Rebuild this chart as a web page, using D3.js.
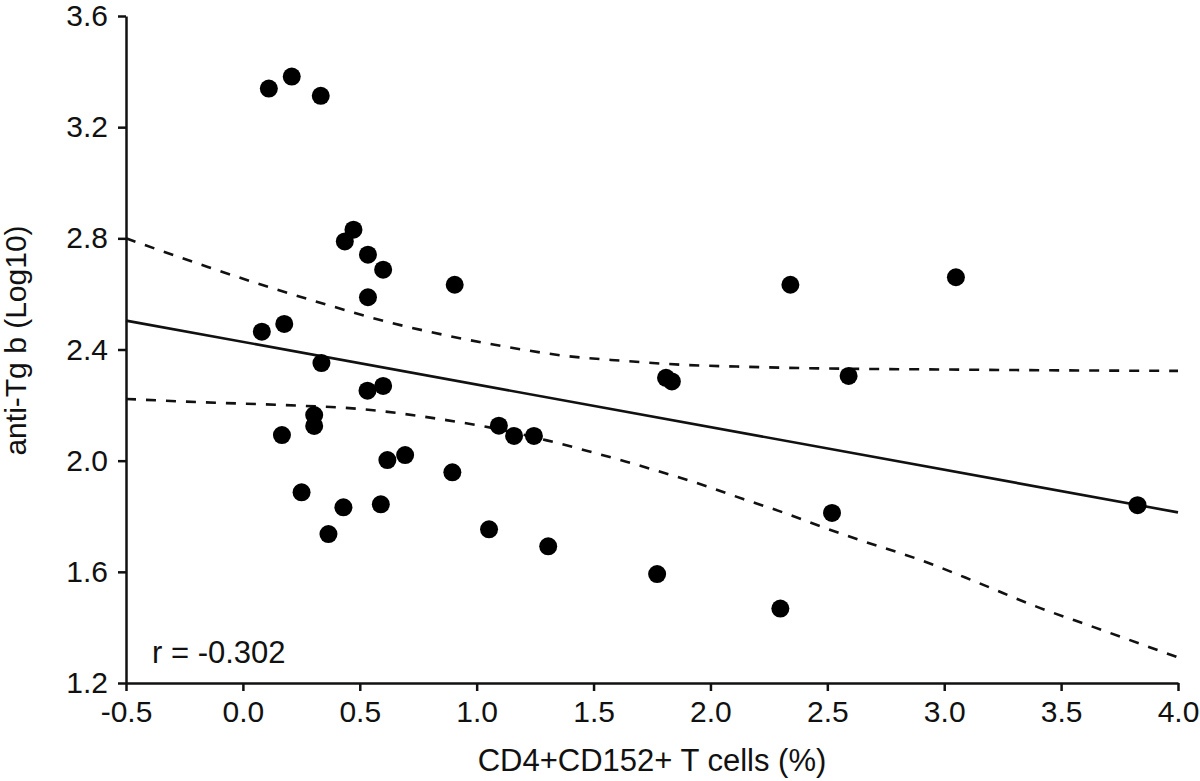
<!DOCTYPE html>
<html>
<head>
<meta charset="utf-8">
<script src="https://cdn.jsdelivr.net/npm/d3@7/dist/d3.min.js"></script>
<style>
  html, body { margin: 0; padding: 0; background: #fff; }
  svg { display: block; }
  text { font-family: "Liberation Sans", Arial, sans-serif; fill: #111; }
</style>
</head>
<body>
<svg id="chart" width="1200" height="781"></svg>
<script>
// ---- data ----
const pointX = [0.111, 0.209, 0.333, 0.436, 0.473, 0.535, 0.600, 0.906, 0.535, 0.081,
                0.177, 0.336, 0.533, 0.600, 0.305, 0.305, 0.167, 1.095, 1.160, 1.245,
                0.618, 0.694, 0.896, 0.251, 0.430, 0.590, 0.366, 1.053, 1.306, 1.772,
                2.299, 2.520, 3.827, 2.342, 3.050, 2.591, 1.810, 1.835];
const pointY = [3.339, 3.382, 3.313, 2.789, 2.831, 2.741, 2.687, 2.633, 2.588, 2.464,
                2.492, 2.351, 2.252, 2.269, 2.164, 2.125, 2.092, 2.126, 2.089, 2.089,
                2.002, 2.020, 1.958, 1.886, 1.832, 1.843, 1.736, 1.753, 1.692, 1.592,
                1.468, 1.812, 1.840, 2.633, 2.660, 2.305, 2.298, 2.285];

const fitX = [-0.5, 4.0];
const fitY = [2.504, 1.814];

const upperX = [-0.5, -0.15, 0.11, 0.36, 0.62, 0.88, 1.13, 1.38, 1.63, 1.88, 2.14, 2.40, 3.00, 3.50, 4.00];
const upperY = [2.80, 2.697, 2.625, 2.561, 2.499, 2.449, 2.409, 2.377, 2.359, 2.345, 2.338, 2.333, 2.328, 2.325, 2.323];

const lowerX = [-0.5, -0.17, 0.18, 0.50, 0.87, 1.04, 1.30, 1.47, 1.64, 1.81, 1.98, 2.14, 2.31, 2.48, 2.64, 2.90, 3.15, 3.40, 3.64, 4.00];
const lowerY = [2.222, 2.210, 2.200, 2.186, 2.146, 2.122, 2.073, 2.036, 1.996, 1.954, 1.909, 1.862, 1.814, 1.761, 1.714, 1.642, 1.559, 1.473, 1.401, 1.292];

const xTicks = [-0.5, 0.0, 0.5, 1.0, 1.5, 2.0, 2.5, 3.0, 3.5, 4.0];
const yTicks = [1.2, 1.6, 2.0, 2.4, 2.8, 3.2, 3.6];

const xTitle = "CD4+CD152+ T cells (%)";
const yTitle = "anti-Tg b (Log10)";
const annotation = "r = -0.302";

// ---- drawing ----
(function () {
const svg = d3.select("#chart");
const mLeft = 126, mRight = 1178, mTop = 16, mBottom = 683;

const x = d3.scaleLinear().domain([-0.5, 4.0]).range([mLeft, mRight]);
const y = d3.scaleLinear().domain([1.2, 3.6]).range([mBottom, mTop]);

const FONT = 30;
const TITLE_FONT = 31;
const fmt = d => d3.format(".1f")(d).replace("\u2212", "-");

// axes
const xAxis = d3.axisBottom(x).tickValues(xTicks).tickFormat(fmt)
  .tickSize(8).tickSizeOuter(0).tickPadding(10);
const yAxis = d3.axisLeft(y).tickValues(yTicks).tickFormat(fmt)
  .tickSize(8).tickSizeOuter(0).tickPadding(10);

const gx = svg.append("g").attr("transform", `translate(0,${mBottom})`).call(xAxis);
const gy = svg.append("g").attr("transform", `translate(${mLeft},0)`).call(yAxis);

[gx, gy].forEach(g => {
  g.select(".domain").attr("stroke", "#111").attr("stroke-width", 2.5);
  g.selectAll(".tick line").attr("stroke", "#111").attr("stroke-width", 2.5);
  g.selectAll(".tick text").attr("font-size", FONT)
    .attr("font-family", '"Liberation Sans", Arial, sans-serif').attr("fill", "#111");
});

// confidence band lines
const line = d3.line().x(d => x(d[0])).y(d => y(d[1])).curve(d3.curveMonotoneX);

svg.append("path")
  .attr("d", line(upperX.map((v, i) => [v, upperY[i]])))
  .attr("fill", "none").attr("stroke", "#111").attr("stroke-width", 2.6)
  .attr("stroke-dasharray", "10,10");

svg.append("path")
  .attr("d", line(lowerX.map((v, i) => [v, lowerY[i]])))
  .attr("fill", "none").attr("stroke", "#111").attr("stroke-width", 2.6)
  .attr("stroke-dasharray", "10,10");

// regression line
svg.append("path")
  .attr("d", d3.line().x(d => x(d[0])).y(d => y(d[1]))(fitX.map((v, i) => [v, fitY[i]])))
  .attr("fill", "none").attr("stroke", "#111").attr("stroke-width", 2.6);

// points
svg.append("g").selectAll("circle")
  .data(pointX.map((v, i) => [v, pointY[i]]))
  .join("circle")
  .attr("cx", d => x(d[0])).attr("cy", d => y(d[1]))
  .attr("r", 9).attr("fill", "#000");

// annotation
svg.append("text").attr("x", 152).attr("y", 663)
  .attr("font-size", TITLE_FONT).text(annotation);

// axis titles
svg.append("text").attr("x", (mLeft + mRight) / 2).attr("y", 771)
  .attr("text-anchor", "middle").attr("font-size", TITLE_FONT).text(xTitle);

svg.append("text").attr("transform", `translate(26,${(mTop + mBottom) / 2 - 9}) rotate(-90)`)
  .attr("text-anchor", "middle").attr("font-size", FONT).text(yTitle);
})();
</script>
</body>
</html>
